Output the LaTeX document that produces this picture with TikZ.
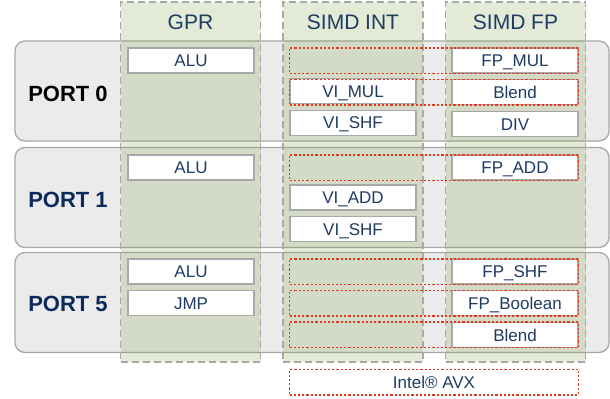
\documentclass[tikz,border=0pt]{standalone}
\usepackage{fontspec}
\setmainfont{Liberation Sans}
\usetikzlibrary{positioning}
\definecolor{textnavy}{HTML}{1F3B63}
\definecolor{portnavy}{HTML}{0B2A5B}
\definecolor{avxred}{HTML}{E03A1C}
\definecolor{colgreen}{RGB}{115,155,50}
\definecolor{portgray}{HTML}{EBEBEB}
\definecolor{linegray}{HTML}{A8A8A8}
\tikzset{
	portbox/.style={rectangle, rounded corners=10bp, draw=linegray,
		fill=portgray, line width=1.3bp, minimum width=594bp,
		minimum height=100bp, inner sep=0pt},
	column/.style={rectangle, draw=linegray, fill=colgreen,
		fill opacity=0.2, dash pattern=on 7bp off 4bp, line width=1.3bp,
		minimum width=140bp, minimum height=360bp, inner sep=0pt},
	header/.style={text=textnavy, font=\fontsize{21bp}{24bp}\selectfont,
		text height=15bp, text depth=0pt, inner sep=0pt},
	portlabel/.style={text=portnavy, font=\fontsize{22bp}{26bp}\selectfont\bfseries,
		text height=16bp, text depth=0pt, inner sep=0pt},
	unitbox/.style={rectangle, draw=linegray, fill=white, line width=1.2bp,
		minimum width=126bp, minimum height=25bp, inner sep=0pt,
		text=textnavy, font=\fontsize{17bp}{20bp}\selectfont,
		text height=12.3bp, text depth=0pt},
	avxbox/.style={rectangle, draw=avxred, line width=1.5bp,
		dash pattern=on 2.2bp off 2bp, minimum width=289bp,
		minimum height=25.5bp, inner sep=0pt,
		text=textnavy, font=\fontsize{17bp}{20bp}\selectfont,
		text height=12.3bp, text depth=0pt}
}
\begin{document}
\begin{tikzpicture}[x=1bp, y=1bp]
	\useasboundingbox (0,0) rectangle (610,-398);
	
	%% ---- Ports (rows) ----
	\node[portbox] (port0) at (312,-91)    {};
	\node[portbox] (port1) at (312,-197.5) {};
	\node[portbox] (port5) at (312,-302.5) {};
	
	\node[portlabel, text=black] (p0lbl) at (68,-93)    {PORT 0};
	\node[portlabel]             (p1lbl) at (68,-199.5) {PORT 1};
	\node[portlabel]             (p5lbl) at (68,-303.5) {PORT 5};
	
	%% ---- Register columns ----
	\node[column] (gpr)     at (190.5,-182) {};
	\node[column] (simdint) at (353,-182)   {};
	\node[column] (simdfp)  at (515.5,-182) {};
	
	\node[header] (gprhead)  at ([yshift=-21bp]gpr.north)     {GPR};
	\node[header] (inthead)  at ([yshift=-21bp]simdint.north) {SIMD INT};
	\node[header] (fphead)   at ([yshift=-21bp]simdfp.north)  {SIMD FP};
	
	%% ---- Port 0 units ----
	\node[unitbox] (alu0)   at (191,-60.5) {ALU};
	\node[unitbox] (vimul0) at (353,-91)   {VI\_MUL};
	\node[unitbox, below=5.5bp of vimul0] (vishf0) {VI\_SHF};
	\node[unitbox] (fpmul0) at (515,-60.5) {FP\_MUL};
	\node[unitbox, below=5.5bp of fpmul0] (blend0) {Blend};
	\node[unitbox, below=5.5bp of blend0] (div0)   {DIV};
	
	%% ---- Port 1 units ----
	\node[unitbox] (alu1)   at (191,-167.5) {ALU};
	\node[unitbox] (viadd1) at (353,-197.5) {VI\_ADD};
	\node[unitbox, below=5.5bp of viadd1] (vishf1) {VI\_SHF};
	\node[unitbox] (fpadd1) at (515,-167.5) {FP\_ADD};
	
	%% ---- Port 5 units ----
	\node[unitbox] (alu5)   at (191,-271.5) {ALU};
	\node[unitbox, below=5.5bp of alu5] (jmp5) {JMP};
	\node[unitbox] (fpshf5) at (515,-271.5) {FP\_SHF};
	\node[unitbox, below=5.5bp of fpshf5] (fpbool5) {FP\_Boolean};
	\node[unitbox, below=5.5bp of fpbool5] (blend5) {Blend};
	
	%% ---- AVX extensions (dotted) ----
	\coordinate (avxcol) at (434,0);
	\node[avxbox] (avx0a) at (avxcol |- fpmul0)  {};
	\node[avxbox] (avx0b) at (avxcol |- blend0)  {};
	\node[avxbox] (avx1a) at (avxcol |- fpadd1)  {};
	\node[avxbox] (avx5a) at (avxcol |- fpshf5)  {};
	\node[avxbox] (avx5b) at (avxcol |- fpbool5) {};
	\node[avxbox] (avx5c) at (avxcol |- blend5)  {};
	\node[avxbox] (avxkey) at (434,-382) {Intel® AVX};
	
\end{tikzpicture}
\end{document}
